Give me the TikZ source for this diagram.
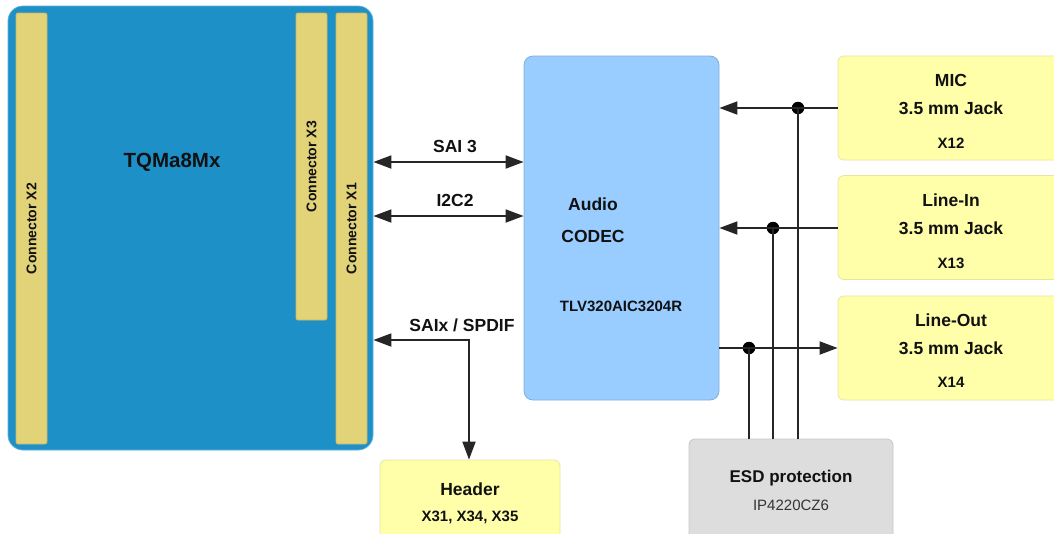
\documentclass[tikz,border=0pt]{standalone}
\usepackage{fontspec}
\setmainfont{Liberation Sans}
\usetikzlibrary{arrows.meta,calc}
\definecolor{modblue}{HTML}{1E90C8}
\definecolor{conyel}{HTML}{E2D278}
\definecolor{conedge}{HTML}{C9B860}
\definecolor{codecblue}{HTML}{99CCFF}
\definecolor{jackyel}{HTML}{FFFFAA}
\definecolor{jackedge}{HTML}{E6E6A0}
\definecolor{esdgrey}{HTML}{DDDDDD}
\definecolor{txt}{HTML}{111111}
\tikzset{
  box/.style={draw, line width=0.8pt, inner sep=0pt, rounded corners=6pt},
  conbar/.style={box, fill=conyel, draw=conedge, rounded corners=2pt, minimum width=31pt},
  jack/.style={box, fill=jackyel, draw=jackedge, minimum width=226pt, minimum height=104pt},
  lbl/.style={font=\bfseries, text=txt, inner sep=0pt},
  sig/.style={line width=1.8pt, draw=black!85},
  tip/.style={-{Triangle[length=18pt,width=13pt]}},
  tips/.style={{Triangle[length=18pt,width=13pt]}-{Triangle[length=18pt,width=13pt]}},
  dot/.style={circle, fill=black, inner sep=0pt, minimum size=12.5pt}
}
\begin{document}
\begin{tikzpicture}[x=1pt,y=-1pt]
\clip (0,0) rectangle (1054,533);
\fill[white] (0,0) rectangle (1054,533);
% module
\node[box, fill=modblue, draw=modblue!70!white, rounded corners=15pt, minimum width=365pt, minimum height=444pt] (main) at (190.5,228) {};
\node[conbar, minimum height=431pt] (x2) at (31.5,228.5) {};
\node[conbar, minimum height=307pt] (x3) at (311.5,166.5) {};
\node[conbar, minimum height=431pt] (x1) at (351.5,228.5) {};
\node[lbl, rotate=90, font=\bfseries\fontsize{14}{16}\selectfont] (x2t) at (x2) {Connector X2};
\node[lbl, rotate=90, font=\bfseries\fontsize{14}{16}\selectfont] (x3t) at (x3) {Connector X3};
\node[lbl, rotate=90, font=\bfseries\fontsize{14}{16}\selectfont] (x1t) at (x1) {Connector X1};
\node[lbl, font=\bfseries\fontsize{20.5}{24}\selectfont] (tq) at (172,162) {TQMa8Mx};
% codec
\node[box, fill=codecblue, draw=codecblue!85!black, minimum width=195pt, minimum height=344pt, rounded corners=9pt] (codec) at (621.5,228) {};
\node[lbl, font=\bfseries\fontsize{17.5}{20}\selectfont] (cod1) at (593,204) {Audio};
\node[lbl, font=\bfseries\fontsize{17.5}{20}\selectfont] (cod2) at (593,236) {CODEC};
\node[lbl, font=\bfseries\fontsize{15}{18}\selectfont] (cod3) at (621,306) {TLV320AIC3204R};
% jacks
\node[jack] (mic) at (951,108) {};
\node[lbl, font=\bfseries\fontsize{17.5}{20}\selectfont] at (951,80) {MIC};
\node[lbl, font=\bfseries\fontsize{17.5}{20}\selectfont] at (951,108) {3.5 mm Jack};
\node[lbl, font=\bfseries\fontsize{15}{18}\selectfont] at (951,143) {X12};
\node[jack] (linein) at (951,227.5) {};
\node[lbl, font=\bfseries\fontsize{17.5}{20}\selectfont] at (951,200) {Line-In};
\node[lbl, font=\bfseries\fontsize{17.5}{20}\selectfont] at (951,228) {3.5 mm Jack};
\node[lbl, font=\bfseries\fontsize{15}{18}\selectfont] at (951,263) {X13};
\node[jack] (lineout) at (951,348) {};
\node[lbl, font=\bfseries\fontsize{17.5}{20}\selectfont] at (951,320) {Line-Out};
\node[lbl, font=\bfseries\fontsize{17.5}{20}\selectfont] at (951,348) {3.5 mm Jack};
\node[lbl, font=\bfseries\fontsize{15}{18}\selectfont] at (951,382) {X14};
% ESD
\node[box, fill=esdgrey, draw=esdgrey!90!black, minimum width=204pt, minimum height=104pt] (esd) at (791,491) {};
\node[lbl, font=\bfseries\fontsize{17}{20}\selectfont] at (791,478) {ESD protection};
\node[inner sep=0pt, text=black!80, font=\fontsize{15}{18}\selectfont] at (791,505) {IP4220CZ6};
% header
\node[box, fill=jackyel, draw=jackedge, minimum width=180pt, minimum height=104pt] (hdr) at (470,512) {};
\node[lbl, font=\bfseries\fontsize{17.5}{20}\selectfont] at (470,489) {Header};
\node[lbl, font=\bfseries\fontsize{15}{18}\selectfont] at (470,517) {X31, X34, X35};
% signal levels
\coordinate (ysai) at (0,162);
\coordinate (yi2c) at (0,216);
\coordinate (ysaix) at (0,340);
\coordinate (hx) at (469,0);
% connectors
\draw[sig, tips] (main.east |- ysai) -- (codec.west |- ysai);
\node[lbl, font=\bfseries\fontsize{17.5}{20}\selectfont] at (455,146) {SAI 3};
\draw[sig, tips] (main.east |- yi2c) -- (codec.west |- yi2c);
\node[lbl, font=\bfseries\fontsize{17.5}{20}\selectfont] at (455,200) {I2C2};
\draw[sig, tips] (main.east |- ysaix) -- (hx |- ysaix) -- (hx |- hdr.north);
\node[lbl, font=\bfseries\fontsize{17.5}{20}\selectfont] at (462,325) {SAIx / SPDIF};
% audio lines
\node[dot] (d1) at (798,108) {};
\node[dot] (d2) at (773,228) {};
\node[dot] (d3) at (749,348) {};
\draw[sig, tip] (mic.west |- d1) -- (codec.east |- d1);
\draw[sig, tip] (linein.west |- d2) -- (codec.east |- d2);
\draw[sig, tip] (codec.east |- d3) -- (lineout.west |- d3);
\draw[sig] (d1.center) -- (d1 |- esd.north);
\draw[sig] (d2.center) -- (d2 |- esd.north);
\draw[sig] (d3.center) -- (d3 |- esd.north);
\end{tikzpicture}
\end{document}
